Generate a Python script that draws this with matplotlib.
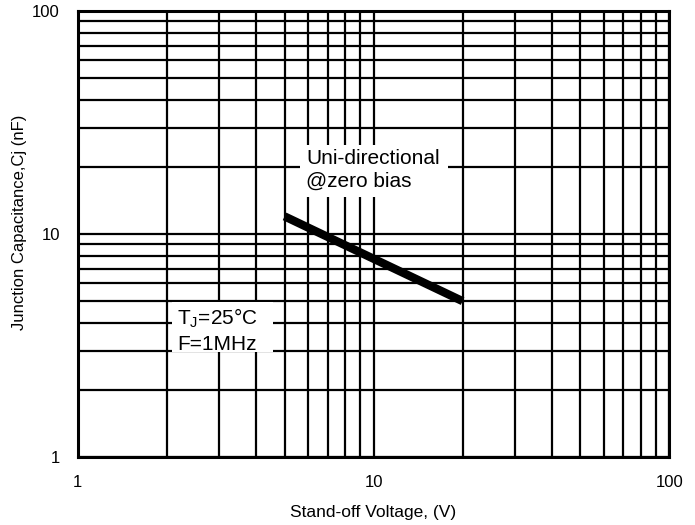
import matplotlib
matplotlib.use("Agg")
import matplotlib.pyplot as plt
from matplotlib.patches import Rectangle

plt.rcParams['font.family'] = ['Liberation Sans', 'DejaVu Sans']
plt.rcParams['mathtext.fontset'] = 'custom'
plt.rcParams['mathtext.rm'] = 'Liberation Sans'

# Capacitance curve (stand-off voltage in V, capacitance in nF)
voltage = [5, 20]
capacitance = [12, 5]

x_ticks = [1, 10, 100]
y_ticks = [1, 10, 100]
tick_labels = ['1', '10', '100']

fig = plt.figure(figsize=(6.95, 5.25), dpi=100)
ax = fig.add_axes([0.112, 0.1295, 0.851, 0.8495])

ax.set_xscale('log')
ax.set_yscale('log')
ax.set_xlim(1, 100)
ax.set_ylim(1, 100)

ax.grid(which='both', color='black', lw=1.6, zorder=1)
ax.set_axisbelow(True)
for s in ax.spines.values():
    s.set_linewidth(2.2)

ax.set_xticks(x_ticks)
ax.set_xticklabels(tick_labels)
ax.set_yticks(y_ticks)
ax.set_yticklabels(tick_labels)
ax.tick_params(which='both', length=0, labelsize=12)
ax.tick_params(axis='x', pad=13)
ax.tick_params(axis='y', pad=13)
ax.xaxis.set_minor_formatter(plt.NullFormatter())
ax.yaxis.set_minor_formatter(plt.NullFormatter())

ax.plot(voltage, capacitance, color='black', lw=6, solid_capstyle='butt', zorder=3)

# white label boxes over the grid
ax.add_patch(Rectangle((0.3756, 0.583), 0.2504, 0.1166, transform=ax.transAxes,
                       facecolor='white', edgecolor='none', zorder=4))
ax.add_patch(Rectangle((0.159, 0.2354), 0.171, 0.112, transform=ax.transAxes,
                       facecolor='white', edgecolor='none', zorder=4))

def px_text(px, py, s):
    fx = (px - 78) / 591
    fy = (457 - py) / 446
    ax.text(fx, fy, s, transform=ax.transAxes, fontsize=15, va='baseline',
            ha='left', zorder=5)

px_text(306, 164, 'Uni-directional')
px_text(306, 187, '@zero bias')
px_text(177, 324, 'T$_\\mathregular{J}$=25°C')
px_text(177, 350, 'F=1MHz')

ax.set_xlabel('Stand-off Voltage, (V)', fontsize=12.5, labelpad=11)
ax.set_ylabel('Junction Capacitance,Cj (nF)', fontsize=12)
ax.yaxis.set_label_coords(-0.086, 0.527)

fig.savefig('out.png', dpi=100)
